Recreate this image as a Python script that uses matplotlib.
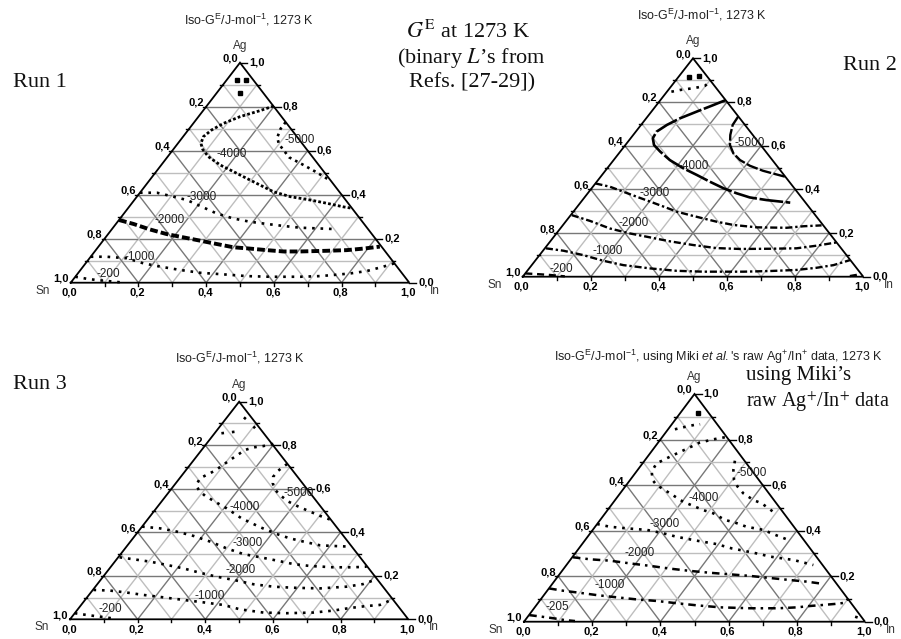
import numpy as np
import matplotlib
matplotlib.use('Agg')
import matplotlib.pyplot as plt

plt.rcParams['font.family'] = ['Liberation Sans', 'DejaVu Sans']
plt.rcParams['mathtext.fontset'] = 'custom'
plt.rcParams['mathtext.rm'] = 'Liberation Sans'
plt.rcParams['mathtext.it'] = 'Liberation Sans:italic'
plt.rcParams['mathtext.bf'] = 'Liberation Sans:bold'

W, H = 901, 639

# iso-G^E lines, compositions (x_In, x_Ag); x_Sn = 1 - x_In - x_Ag
run1_in = {
    'top_a': [0.03, 0.057],
    'top_b': [0.07],
    '-5000': [0.27, 0.27, 0.28, 0.30, 0.33, 0.36, 0.42, 0.47, 0.53],
    '-4000': [0.198, 0.168, 0.123, 0.089, 0.069, 0.06, 0.068, 0.087, 0.12, 0.174, 0.228,
              0.283, 0.337, 0.391, 0.453, 0.519, 0.576, 0.632, 0.663],
    '-3000': [0.0, 0.05, 0.108, 0.155, 0.221, 0.273, 0.334, 0.391, 0.446, 0.499, 0.552, 0.603, 0.654],
    '-2000': [0.0, 0.052, 0.113, 0.173, 0.23, 0.287, 0.343, 0.40, 0.452, 0.505, 0.557, 0.606,
              0.683, 0.741, 0.787, 0.831],
    '-1000': [0.0, 0.047, 0.11, 0.171, 0.228, 0.294, 0.36, 0.422, 0.505, 0.575, 0.664, 0.721,
              0.758, 0.804, 0.848, 0.887, 0.912],
    '-200': [0.0, 0.038, 0.071, 0.102, 0.145],
}
run1_ag = {
    'top_a': [0.921, 0.921],
    'top_b': [0.861],
    '-5000': [0.73, 0.70, 0.66, 0.63, 0.60, 0.57, 0.535, 0.505, 0.467],
    '-4000': [0.803, 0.782, 0.755, 0.724, 0.694, 0.664, 0.633, 0.606, 0.573, 0.535, 0.505,
              0.474, 0.444, 0.414, 0.391, 0.376, 0.361, 0.345, 0.338],
    '-3000': [0.409, 0.409, 0.391, 0.376, 0.342, 0.315, 0.292, 0.277, 0.267, 0.258, 0.25, 0.247, 0.244],
    '-2000': [0.285, 0.267, 0.242, 0.221, 0.206, 0.191, 0.176, 0.161, 0.155, 0.148, 0.142, 0.142,
              0.145, 0.148, 0.155, 0.164],
    '-1000': [0.118, 0.118, 0.111, 0.088, 0.073, 0.058, 0.045, 0.039, 0.030, 0.027, 0.027, 0.030,
              0.035, 0.042, 0.053, 0.073, 0.088],
    '-200': [0.027, 0.018, 0.012, 0.008, 0.002],
}
run1_labels = {'-5000': (0.353, 0.648), '-4000': (0.183, 0.585), '-3000': (0.193, 0.388),
               '-2000': (0.151, 0.285), '-1000': (0.144, 0.118), '-200': (0.091, 0.039)}

run2_in = {
    'top_a': [0.031, 0.059],
    'top_b': [0.013, 0.035, 0.051, 0.065, 0.081, 0.098, 0.102],
    '-5000': [0.266, 0.269, 0.285, 0.307, 0.336, 0.371, 0.413, 0.463, 0.506, 0.541],
    '-4000': [0.192, 0.167, 0.133, 0.099, 0.076, 0.061, 0.065, 0.084, 0.117, 0.165, 0.224,
              0.278, 0.332, 0.387, 0.437, 0.485, 0.54, 0.616],
    '-3000': [0.0, 0.05, 0.101, 0.152, 0.202, 0.253, 0.303, 0.35, 0.396, 0.443, 0.50, 0.574,
              0.663, 0.709, 0.76],
    '-2000': [0.003, 0.071, 0.145, 0.216, 0.284, 0.351, 0.428, 0.503, 0.575, 0.662, 0.739, 0.792, 0.843],
    '-1000': [0.003, 0.06, 0.128, 0.2, 0.269, 0.355, 0.438, 0.519, 0.637, 0.713, 0.789, 0.843, 0.886, 0.923],
    '-200': [0.0, 0.035, 0.076, 0.123],
    '-200b': [0.959, 0.985],
}
run2_ag = {
    'top_a': [0.916, 0.92],
    'top_b': [0.847, 0.855, 0.859, 0.862, 0.867, 0.874, 0.886],
    '-5000': [0.733, 0.695, 0.649, 0.603, 0.565, 0.534, 0.508, 0.485, 0.470, 0.458],
    '-4000': [0.809, 0.786, 0.756, 0.725, 0.695, 0.664, 0.634, 0.603, 0.573, 0.534, 0.496,
              0.466, 0.435, 0.405, 0.382, 0.363, 0.351, 0.339],
    '-3000': [0.427, 0.412, 0.389, 0.366, 0.344, 0.321, 0.298, 0.282, 0.267, 0.252, 0.237, 0.226,
              0.224, 0.231, 0.235],
    '-2000': [0.282, 0.255, 0.221, 0.198, 0.180, 0.162, 0.145, 0.131, 0.127, 0.128, 0.130, 0.142, 0.157],
    '-1000': [0.130, 0.119, 0.099, 0.073, 0.053, 0.038, 0.027, 0.023, 0.023, 0.026, 0.031, 0.041, 0.053, 0.076],
    '-200': [0.015, 0.012, 0.008, 0.0015],
    '-200b': [0.003, 0.011],
}
run2_labels = {'-5000': (0.36, 0.614), '-4000': (0.247, 0.508), '-3000': (0.197, 0.382),
               '-2000': (0.201, 0.247), '-1000': (0.189, 0.119), '-200': (0.095, 0.034)}

run3_in = {
    'top_a': [0.05, 0.08, 0.108],
    'top_b': [0.02, 0.057, 0.071],
    '-5000': [0.285, 0.274, 0.273, 0.287, 0.307, 0.335, 0.375, 0.416, 0.462, 0.502, 0.545],
    '-4000': [0.198, 0.173, 0.147, 0.128, 0.107, 0.087, 0.06, 0.065, 0.086, 0.115, 0.151, 0.208,
              0.275, 0.351, 0.415, 0.464, 0.512, 0.569, 0.61, 0.661],
    '-3000': [0.0, 0.057, 0.114, 0.174, 0.236, 0.30, 0.362, 0.42, 0.476, 0.533, 0.587, 0.659, 0.718, 0.756],
    '-2000': [0.004, 0.049, 0.104, 0.161, 0.218, 0.277, 0.335, 0.393, 0.462, 0.526, 0.587, 0.668,
              0.743, 0.786, 0.814],
    '-1000': [0.002, 0.052, 0.106, 0.161, 0.225, 0.291, 0.355, 0.42, 0.479, 0.556, 0.626, 0.704,
              0.758, 0.802, 0.846, 0.883, 0.908],
    '-200': [0.0, 0.039, 0.083, 0.131],
}
run3_ag = {
    'top_a': [0.928, 0.904, 0.878],
    'top_b': [0.855, 0.862, 0.867],
    '-5000': [0.714, 0.683, 0.655, 0.625, 0.597, 0.571, 0.541, 0.518, 0.495, 0.475, 0.456],
    '-4000': [0.806, 0.796, 0.790, 0.778, 0.732, 0.683, 0.648, 0.617, 0.591, 0.568, 0.545, 0.510,
              0.464, 0.423, 0.392, 0.372, 0.357, 0.340, 0.337, 0.334],
    '-3000': [0.426, 0.418, 0.403, 0.383, 0.357, 0.326, 0.300, 0.285, 0.270, 0.254, 0.245, 0.239, 0.239, 0.242],
    '-2000': [0.285, 0.276, 0.265, 0.250, 0.234, 0.214, 0.196, 0.181, 0.161, 0.150, 0.145, 0.142,
              0.150, 0.162, 0.184],
    '-1000': [0.135, 0.132, 0.123, 0.112, 0.101, 0.089, 0.078, 0.066, 0.046, 0.031, 0.028, 0.031,
              0.040, 0.052, 0.061, 0.066, 0.092],
    '-200': [0.028, 0.020, 0.012, 0.003],
}
run3_labels = {'-5000': (0.386, 0.579), '-4000': (0.258, 0.518), '-3000': (0.348, 0.352),
               '-2000': (0.391, 0.227), '-1000': (0.36, 0.107), '-200': (0.095, 0.046)}

miki_in = {
    'top_a': [0.052],
    'top_b': [0.02, 0.052, 0.067, 0.083],
    '-5000': [0.265, 0.281, 0.305, 0.33, 0.361, 0.406, 0.437, 0.489],
    '-4000': [0.184, 0.155, 0.121, 0.113, 0.066, 0.041, 0.045, 0.066, 0.089, 0.124, 0.203, 0.281,
              0.317, 0.366, 0.402, 0.444, 0.501, 0.538, 0.589],
    '-3000': [0.0, 0.043, 0.096, 0.159, 0.215, 0.261, 0.328, 0.394, 0.448, 0.487, 0.543, 0.578, 0.655, 0.724],
    '-2000': [0.002, 0.057, 0.118, 0.183, 0.248, 0.312, 0.376, 0.437, 0.50, 0.563, 0.625, 0.688, 0.741, 0.784],
    '-1000': [0.001, 0.047, 0.10, 0.154, 0.219, 0.281, 0.344, 0.408, 0.47, 0.544, 0.634, 0.717,
              0.769, 0.804, 0.836, 0.873, 0.899, 0.90],
    '-205': [0.001, 0.041, 0.079, 0.117, 0.148],
    '-205b': [0.96, 0.978],
}
miki_ag = {
    'top_a': [0.918],
    'top_b': [0.845, 0.859, 0.864, 0.867],
    '-5000': [0.707, 0.666, 0.622, 0.593, 0.564, 0.534, 0.520, 0.483],
    '-4000': [0.810, 0.801, 0.786, 0.776, 0.725, 0.695, 0.659, 0.622, 0.600, 0.578, 0.527, 0.490,
              0.476, 0.447, 0.435, 0.417, 0.403, 0.385, 0.362],
    '-3000': [0.429, 0.417, 0.41, 0.403, 0.388, 0.373, 0.356, 0.341, 0.322, 0.312, 0.297, 0.286, 0.271, 0.249],
    '-2000': [0.283, 0.274, 0.268, 0.256, 0.245, 0.233, 0.223, 0.215, 0.208, 0.201, 0.192, 0.183, 0.176, 0.168],
    '-1000': [0.146, 0.136, 0.127, 0.117, 0.107, 0.098, 0.091, 0.081, 0.072, 0.063, 0.059, 0.059,
              0.063, 0.069, 0.073, 0.078, 0.083, 0.10],
    '-205': [0.029, 0.022, 0.015, 0.007, 0.003],
    '-205b': [0.022, 0.015],
}
miki_labels = {'-5000': (0.341, 0.654), '-4000': (0.255, 0.542), '-3000': (0.197, 0.429),
               '-2000': (0.19, 0.300), '-1000': (0.172, 0.161), '-205': (0.067, 0.063)}

# line looks (dash pattern, width); 'dots' = isolated points
DOT = ((0, (1, 2.2)), 1.9)
run1_style = {'top_a': 'dots', 'top_b': 'dots', '-5000': ((0, (1, 1.6)), 1.9),
              '-4000': ((0, (1, 0.8)), 2.0), '-2000': ((0, (2, 0.8)), 2.8)}
run2_style = {'top_a': 'dots', '-5000': ((0, (5, 1)), 1.7), '-4000': ((0, (9, 1)), 1.9),
              '-3000': ((0, (3, 1.2, 1, 1.2)), 1.7), '-2000': ((0, (3, 1.2, 1, 1.2)), 1.7),
              '-1000': ((0, (3, 1.2, 1, 1.2)), 1.7), '-200': ((0, (3, 2)), 1.7), '-200b': ((0, (3, 2)), 1.7)}
run3_style = {'top_a': ((0, (1, 4)), 1.9), 'top_b': ((0, (1, 3)), 1.9)}
miki_style = {'top_a': 'dots', '-2000': ((0, (3, 2, 1, 2)), 1.8), '-1000': ((0, (3, 2, 1, 2)), 1.8),
              '-205': ((0, (3, 2, 1, 2)), 1.8)}

TITLE = r'Iso-G$^{\mathrm{E}}$/J-mol$^{-1}$, 1273 K'
TITLE_MIKI = r"Iso-G$^{\mathrm{E}}$/J-mol$^{-1}$, using Miki $\mathit{et\ al.}$'s raw Ag$^{+}$/In$^{+}$ data, 1273 K"

# pixel layout: (Sn corner x, In corner x, base y, apex y), title centre
panels = [
    ((70.7, 409.3, 282.7, 62.7), TITLE, (249, 20), run1_in, run1_ag, run1_style, run1_labels),
    ((522.7, 863.3, 276.7, 58.3), TITLE, (702, 15), run2_in, run2_ag, run2_style, run2_labels),
    ((70.0, 408.3, 619.3, 401.7), TITLE, (240, 358), run3_in, run3_ag, run3_style, run3_labels),
    ((524.0, 865.0, 621.7, 394.0), TITLE_MIKI, (718, 357), miki_in, miki_ag, miki_style, miki_labels),
]

fig = plt.figure(figsize=(W / 100, H / 100), dpi=100)


def tern(x_in, x_ag):
    x_in = np.asarray(x_in, float)
    x_ag = np.asarray(x_ag, float)
    return x_in + 0.5 * x_ag, x_ag


def fpos(x, y):
    return x / W, 1 - y / H


def draw_panel(box, title, tpos, c_in, c_ag, styles, labels):
    sn_x, in_x, base, top = box
    wpx, hpx = in_x - sn_x, base - top
    ax = fig.add_axes([sn_x / W, 1 - base / H, wpx / W, hpx / H])
    ax.set_xlim(0, 1)
    ax.set_ylim(0, 1)
    ax.set_axis_off()

    # grid
    for i in range(1, 10):
        v = i / 10
        col = '#787878' if i % 2 == 0 else '#bebebe'
        for a, b in [((0, v), (1 - v, v)), ((v, 0), (v, 1 - v)), ((1 - v, 0), (0, 1 - v))]:
            x, y = tern([a[0], b[0]], [a[1], b[1]])
            ax.plot(x, y, color=col, lw=1.0, zorder=1)
    x, y = tern([0, 1, 0, 0], [0, 0, 1, 0])
    ax.plot(x, y, color='k', lw=1.3, zorder=3, clip_on=False, solid_joinstyle='miter')

    # ticks and tick labels
    tk = dict(color='k', lw=1.0, clip_on=False, zorder=3)
    tf = dict(fontsize=8, fontweight='bold', textcoords='offset pixels', annotation_clip=False)
    for i in range(11):
        v = i / 10
        major = i % 2 == 0
        if 0 < i < 10:
            ax.plot([v, v], [0, -3 / hpx], **tk)
            xl = 0.5 * (1 - v)
            ax.plot([xl, xl - 3 / wpx], [1 - v, 1 - v], **tk)
        xr = 1 - 0.5 * v
        ax.plot([xr, xr + (7 if major else 3) / wpx], [v, v], **tk)
        if major:
            lab = f'{v:.1f}'.replace('.', ',')
            ax.annotate(lab, (v, 0), xytext=(-1, -5), ha='center', va='top', **tf)
            ax.annotate(lab, (0.5 * (1 - v), 1 - v), xytext=(-2, 1), ha='right', va='baseline', **tf)
            ax.annotate(lab, (xr, v), xytext=(9, 0), ha='left', va='center', **tf)

    nf = dict(fontsize=8.5, color='#333333', textcoords='offset pixels', ha='center', va='center',
              annotation_clip=False)
    ax.annotate('Ag', (0.5, 1), xytext=(0, 17), **nf)
    ax.annotate('Sn', (0, 0), xytext=(-28, -8), **nf)
    ax.annotate('In', (1, 0), xytext=(26, -8), **nf)

    # iso-lines
    for key in c_in:
        x, y = tern(c_in[key], c_ag[key])
        st = styles.get(key, DOT)
        if st == 'dots':
            ax.plot(x, y, ls='none', marker='s', ms=2.3, color='k', zorder=4, clip_on=False)
        else:
            ax.plot(x, y, color='k', lw=st[1], linestyle=st[0], zorder=4,
                    dash_capstyle='butt', clip_on=False)
    for txt, (li, la) in labels.items():
        x, y = tern(li, la)
        ax.text(x, y, txt, fontsize=8.5, ha='center', va='center', color='#222222', zorder=5)

    fig.text(*fpos(*tpos), title, fontsize=9, ha='center', va='center', color='#222222')


for p in panels:
    draw_panel(*p)

serif = dict(fontfamily='Liberation Serif', math_fontfamily='stix', color='#111111')
fig.text(*fpos(13, 87), 'Run 1', fontsize=16, ha='left', va='baseline', **serif)
fig.text(*fpos(843, 70), 'Run 2', fontsize=16, ha='left', va='baseline', **serif)
fig.text(*fpos(13, 389), 'Run 3', fontsize=16, ha='left', va='baseline', **serif)
fig.text(*fpos(468, 38), r'$G^{\mathrm{E}}$ at 1273 K', fontsize=16, ha='center', va='baseline', **serif)
fig.text(*fpos(471, 63), '(binary $L$\u2019s from', fontsize=16, ha='center', va='baseline', **serif)
fig.text(*fpos(472, 87), 'Refs. [27-29])', fontsize=16, ha='center', va='baseline', **serif)
fig.text(*fpos(746, 380), 'using Miki\u2019s', fontsize=15, ha='left', va='baseline', **serif)
fig.text(*fpos(746, 407), 'raw Ag$^{+}$/In$^{+}$ data', fontsize=14.5, ha='left', va='baseline', **serif)

fig.savefig('out.png', dpi=100)
